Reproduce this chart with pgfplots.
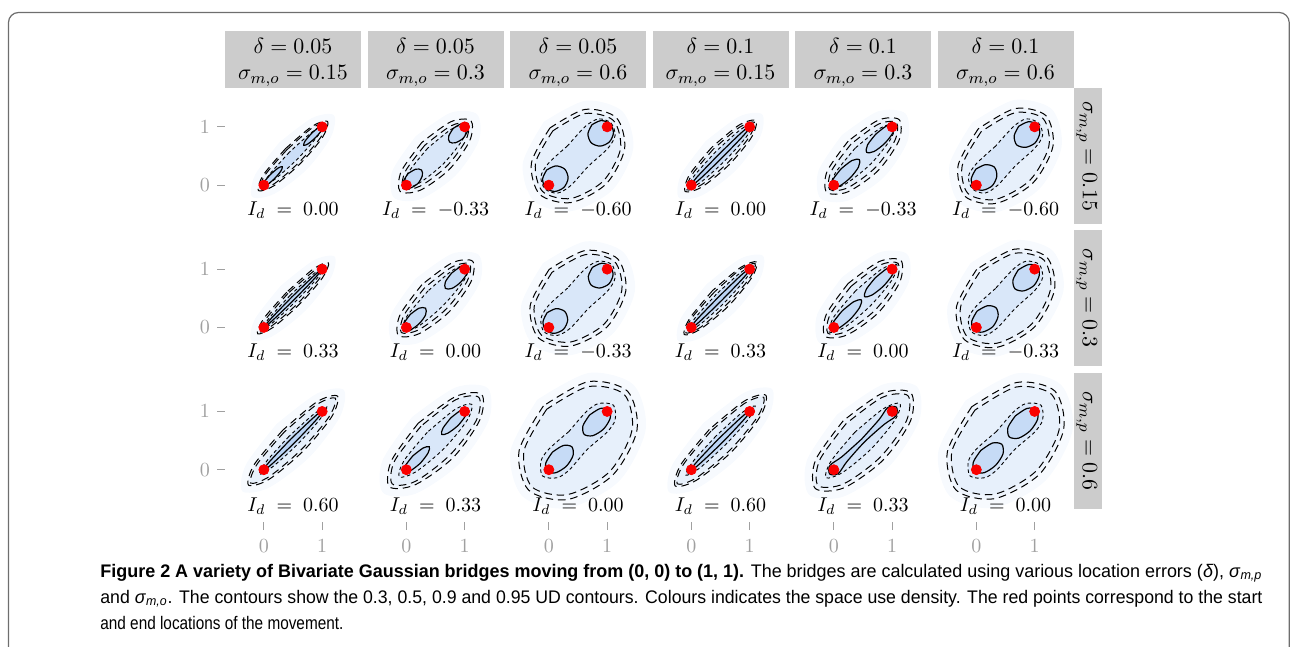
\documentclass[border=0pt]{standalone}
\usepackage[no-math]{fontspec}
\usepackage{pgfplots}
\pgfplotsset{compat=1.18}
\newfontfamily\capfont{Liberation Sans}
\definecolor{bl}{RGB}{90,150,230}
\definecolor{ptred}{RGB}{250,0,0}
\definecolor{boxgray}{RGB}{204,204,204}
\definecolor{tickgray}{RGB}{160,160,160}
\definecolor{framegray}{RGB}{110,110,110}
\tikzset{
 halo/.style={smooth, draw=none, fill=bl, fill opacity=0.05},
 c95/.style={smooth, draw=black, line width=0.5pt, dash pattern=on 3.8pt off 2.4pt, fill=bl, fill opacity=0.05},
 c90/.style={smooth, draw=black, line width=0.5pt, dash pattern=on 3.8pt off 2.4pt, fill=bl, fill opacity=0.05},
 c50/.style={smooth, draw=black, line width=0.45pt, dash pattern=on 1.7pt off 1.4pt, fill=bl, fill opacity=0.10},
 c50t/.style={smooth, draw=black, line width=0.45pt, dash pattern=on 1.7pt off 1.4pt, fill=bl, fill opacity=0.20},
 c30/.style={smooth, draw=black, line width=0.6pt, fill=bl, fill opacity=0.15},
 idl/.style={font=\fontsize{10.3}{12}\selectfont},
 hdr/.style={font=\fontsize{10.8}{13}\selectfont, anchor=base},
}
\pgfplotsset{
 pan/.style={scale only axis, width=68pt, height=68pt, anchor=north west,
  xmin=-0.6665, xmax=1.6665, ymin=-0.6665, ymax=1.6665,
  axis line style={draw=none}, xtick=\empty, ytick=\empty, clip=false,
  tick align=outside, tick pos=left, major tick length=4pt,
  tick style={draw=tickgray, line width=0.6pt},
  tick label style={text=tickgray, font=\fontsize{10.2}{12}\selectfont},
  xticklabel style={yshift=-1.5pt}},
 table/uv/.style={row sep=\\, x expr={0.5+0.7071*(\thisrow{u}-(\thisrow{v}))}, y expr={0.5+0.7071*(\thisrow{u}+(\thisrow{v}))}},
}
% centred ellipse: a, 0.7a, b, 0.7b (u along the diagonal, v across it)
\newcommand\Ell[5]{\addplot[#1] table[uv]{u v\\ 0 #4\\ -#3 #5\\ -#2 0\\ -#3 -#5\\ 0 -#4\\ #3 -#5\\ #2 0\\ #3 #5\\ 0 #4\\};}
% pair of lobes at the two ends: u = p1..p5, half width b, 0.7b
\newcommand\Lob[8]{\addplot[#1] table[uv]{u v\\ #4 #7\\ #3 #8\\ #2 0\\ #3 -#8\\ #4 -#7\\ #5 -#8\\ #6 0\\ #5 #8\\ #4 #7\\};
\addplot[#1] table[uv]{u v\\ -#4 #7\\ -#3 #8\\ -#2 0\\ -#3 -#8\\ -#4 -#7\\ -#5 -#8\\ -#6 0\\ -#5 #8\\ -#4 #7\\};}
% waisted contour: tip U, half widths at u=0, 0.45, 0.7
\newcommand\Pea[5]{\addplot[#1] table[uv]{u v\\ 0 #3\\ -0.45 #4\\ -0.7 #5\\ -#2 0\\ -0.7 -#5\\ -0.45 -#4\\ 0 -#3\\ 0.45 -#4\\ 0.7 -#5\\ #2 0\\ 0.7 #5\\ 0.45 #4\\ 0 #3\\};}
\newcommand\panel[6]{%
\begin{axis}[pan, at={(#1pt,#2pt)}, #3]
#6
\addplot[only marks, mark=*, mark size=2.5pt, color=ptred] coordinates {(0,0) (1,1)};
\node[idl] at (axis cs:0.5,#4) {$I_d \;=\; #5$};
\end{axis}}
\begin{document}
\begin{tikzpicture}
\useasboundingbox (0,0) rectangle (645.5pt,-323.5pt);
\draw[framegray, line width=0.6pt, rounded corners=5pt] (4.25pt,-340pt) -- (4.25pt,-6.25pt) -- (644.6pt,-6.25pt) -- (644.6pt,-340pt);
% column headers
\foreach \cx/\d/\s in {146.5/0.05/0.15, 217.75/0.05/0.3, 289/0.05/0.6, 360.25/0.1/0.15, 431.5/0.1/0.3, 502.75/0.1/0.6}{
 \fill[boxgray] (\cx pt-34pt,-15.5pt) rectangle (\cx pt+34pt,-44pt);
 \node[hdr] at (\cx pt,-26.65pt) {$\delta = \d$};
 \node[hdr] at (\cx pt,-40pt) {$\sigma_{m,o} = \s$};
}
% row headers
\foreach \cy/\s in {-78/0.15, -149.15/0.3, -220.3/0.6}{
 \fill[boxgray] (536.75pt,\cy pt+34pt) rectangle (551pt,\cy pt-34pt);
 \node[font=\fontsize{10.8}{13}\selectfont, rotate=-90] at (543.4pt,\cy pt) {$\sigma_{m,p} = \s$};
}
% ---------- row 1 ----------
\panel{112.5}{-44}{ytick={0,1}}{-0.43}{0.00}{
\Ell{halo}{0.99}{0.69}{0.33}{0.23}
\Ell{c95}{0.84}{0.59}{0.18}{0.13}
\Ell{c90}{0.80}{0.56}{0.15}{0.11}
\Ell{c50t}{0.74}{0.52}{0.09}{0.06}
\Lob{c30}{0.26}{0.33}{0.5}{0.67}{0.74}{0.05}{0.035}}
\panel{183.75}{-44}{}{-0.43}{-0.33}{
\Ell{halo}{1.01}{0.71}{0.48}{0.34}
\Ell{c95}{0.86}{0.60}{0.33}{0.23}
\Ell{c90}{0.79}{0.55}{0.26}{0.18}
\Ell{c50}{0.76}{0.53}{0.19}{0.13}
\Lob{c30}{0.34}{0.40}{0.55}{0.70}{0.76}{0.12}{0.08}}
\panel{255}{-44}{}{-0.43}{-0.60}{
\Ell{halo}{1.08}{0.76}{0.83}{0.58}
\Ell{c95}{0.93}{0.65}{0.68}{0.48}
\Ell{c90}{0.86}{0.60}{0.61}{0.43}
\Pea{c50}{0.80}{0.25}{0.27}{0.20}
\Lob{c30}{0.32}{0.39}{0.55}{0.71}{0.78}{0.21}{0.15}}
\panel{326.25}{-44}{}{-0.43}{0.00}{
\Ell{halo}{1.01}{0.71}{0.36}{0.25}
\Ell{c95}{0.86}{0.60}{0.21}{0.15}
\Ell{c90}{0.82}{0.57}{0.17}{0.12}
\Ell{c50t}{0.78}{0.55}{0.11}{0.08}
\Ell{c30}{0.75}{0.53}{0.04}{0.03}}
\panel{397.5}{-44}{}{-0.43}{-0.33}{
\Ell{halo}{1.03}{0.72}{0.51}{0.36}
\Ell{c95}{0.88}{0.62}{0.36}{0.25}
\Ell{c90}{0.81}{0.57}{0.29}{0.20}
\Ell{c50}{0.77}{0.54}{0.19}{0.13}
\Lob{c30}{0.09}{0.19}{0.42}{0.65}{0.75}{0.11}{0.08}}
\panel{468.75}{-44}{}{-0.43}{-0.60}{
\Ell{halo}{1.13}{0.79}{0.81}{0.57}
\Ell{c95}{0.98}{0.69}{0.66}{0.46}
\Ell{c90}{0.91}{0.64}{0.59}{0.41}
\Pea{c50}{0.80}{0.24}{0.26}{0.20}
\Lob{c30}{0.27}{0.35}{0.52}{0.69}{0.77}{0.20}{0.14}}
% ---------- row 2 ----------
\panel{112.5}{-115.15}{ytick={0,1}}{-0.43}{0.33}{
\Ell{halo}{1.01}{0.71}{0.30}{0.21}
\Ell{c95}{0.86}{0.60}{0.15}{0.11}
\Ell{c90}{0.82}{0.57}{0.12}{0.08}
\Ell{c50t}{0.75}{0.53}{0.07}{0.05}
\Ell{c30}{0.74}{0.52}{0.03}{0.02}}
\panel{183.75}{-115.15}{}{-0.43}{0.00}{
\Ell{halo}{1.05}{0.74}{0.48}{0.34}
\Ell{c95}{0.90}{0.63}{0.33}{0.23}
\Ell{c90}{0.83}{0.58}{0.26}{0.18}
\Ell{c50}{0.80}{0.56}{0.18}{0.13}
\Lob{c30}{0.24}{0.32}{0.5}{0.68}{0.76}{0.11}{0.08}}
\panel{255}{-115.15}{}{-0.43}{-0.33}{
\Ell{halo}{1.11}{0.78}{0.85}{0.60}
\Ell{c95}{0.96}{0.67}{0.70}{0.49}
\Ell{c90}{0.89}{0.62}{0.63}{0.44}
\Pea{c50}{0.82}{0.25}{0.27}{0.20}
\Lob{c30}{0.32}{0.39}{0.55}{0.71}{0.78}{0.20}{0.14}}
\panel{326.25}{-115.15}{}{-0.43}{0.33}{
\Ell{halo}{1.03}{0.72}{0.34}{0.24}
\Ell{c95}{0.88}{0.62}{0.19}{0.13}
\Ell{c90}{0.84}{0.59}{0.15}{0.11}
\Ell{c50t}{0.78}{0.55}{0.10}{0.07}
\Ell{c30}{0.75}{0.53}{0.04}{0.03}}
\panel{397.5}{-115.15}{}{-0.43}{0.00}{
\Ell{halo}{1.07}{0.75}{0.51}{0.36}
\Ell{c95}{0.92}{0.64}{0.36}{0.25}
\Ell{c90}{0.85}{0.60}{0.29}{0.20}
\Ell{c50}{0.82}{0.57}{0.18}{0.13}
\Lob{c30}{0.04}{0.15}{0.4}{0.65}{0.76}{0.10}{0.07}}
\panel{468.75}{-115.15}{}{-0.43}{-0.33}{
\Ell{halo}{1.15}{0.81}{0.85}{0.60}
\Ell{c95}{1.00}{0.70}{0.70}{0.49}
\Ell{c90}{0.93}{0.65}{0.63}{0.44}
\Pea{c50}{0.82}{0.24}{0.26}{0.20}
\Lob{c30}{0.23}{0.31}{0.5}{0.69}{0.77}{0.19}{0.13}}
% ---------- row 3 ----------
\panel{112.5}{-186.3}{ytick={0,1}, xtick={0,1}, height=74.7pt, ymin=-0.897}{-0.63}{0.60}{
\Ell{halo}{1.23}{0.86}{0.40}{0.28}
\Ell{c95}{1.08}{0.76}{0.25}{0.18}
\Ell{c90}{1.03}{0.72}{0.21}{0.15}
\Ell{c50t}{0.82}{0.57}{0.10}{0.07}
\Ell{c30}{0.76}{0.53}{0.045}{0.03}}
\panel{183.75}{-186.3}{xtick={0,1}, height=74.7pt, ymin=-0.897}{-0.63}{0.33}{
\Ell{halo}{1.27}{0.89}{0.57}{0.40}
\Ell{c95}{1.12}{0.78}{0.42}{0.29}
\Ell{c90}{1.05}{0.74}{0.35}{0.25}
\Ell{c50}{0.88}{0.62}{0.20}{0.14}
\Lob{c30}{0.15}{0.24}{0.46}{0.68}{0.77}{0.09}{0.06}}
\panel{255}{-186.3}{xtick={0,1}, height=74.7pt, ymin=-0.897}{-0.63}{0.00}{
\Ell{halo}{1.35}{0.95}{0.99}{0.69}
\Ell{c95}{1.20}{0.84}{0.84}{0.59}
\Ell{c90}{1.12}{0.78}{0.76}{0.53}
\Pea{c50}{0.86}{0.22}{0.25}{0.20}
\Lob{c30}{0.15}{0.24}{0.45}{0.66}{0.75}{0.17}{0.12}}
\panel{326.25}{-186.3}{xtick={0,1}, height=74.7pt, ymin=-0.897}{-0.63}{0.60}{
\Ell{halo}{1.25}{0.88}{0.42}{0.29}
\Ell{c95}{1.10}{0.77}{0.27}{0.19}
\Ell{c90}{1.05}{0.74}{0.23}{0.16}
\Ell{c50t}{0.84}{0.59}{0.11}{0.08}
\Ell{c30}{0.76}{0.53}{0.045}{0.03}}
\panel{397.5}{-186.3}{xtick={0,1}, height=74.7pt, ymin=-0.897}{-0.63}{0.33}{
\Ell{halo}{1.31}{0.92}{0.63}{0.44}
\Ell{c95}{1.16}{0.81}{0.48}{0.34}
\Ell{c90}{1.09}{0.76}{0.41}{0.29}
\Ell{c50}{0.90}{0.63}{0.20}{0.14}
\Pea{c30}{0.81}{0.035}{0.06}{0.10}}
\panel{468.75}{-186.3}{xtick={0,1}, height=74.7pt, ymin=-0.897}{-0.63}{0.00}{
\Ell{halo}{1.35}{0.95}{0.97}{0.68}
\Ell{c95}{1.20}{0.84}{0.82}{0.57}
\Ell{c90}{1.12}{0.78}{0.74}{0.52}
\Pea{c50}{0.86}{0.22}{0.25}{0.20}
\Lob{c30}{0.09}{0.19}{0.42}{0.65}{0.75}{0.18}{0.13}}
% ---------- caption ----------
\begin{scope}[every node/.style={anchor=base west, inner sep=0pt, font=\capfont\fontsize{9.1}{11}\selectfont}]
\node at (50pt,-288.5pt) {\resizebox{581pt}{\height}{\textbf{Figure 2 A variety of Bivariate Gaussian bridges moving from (0, 0) to (1, 1).} The bridges are calculated using various location errors (\textit{δ}), \textit{σ}\textsubscript{\textit{m,p}}}};
\node at (50pt,-301.5pt) {\resizebox{581pt}{\height}{and \textit{σ}\textsubscript{\textit{m,o}}. The contours show the 0.3, 0.5, 0.9 and 0.95 UD contours. Colours indicates the space use density. The red points correspond to the start}};
\node at (50pt,-314.5pt) {\resizebox{121.5pt}{\height}{and end locations of the movement.}};
\end{scope}
\end{tikzpicture}
\end{document}
